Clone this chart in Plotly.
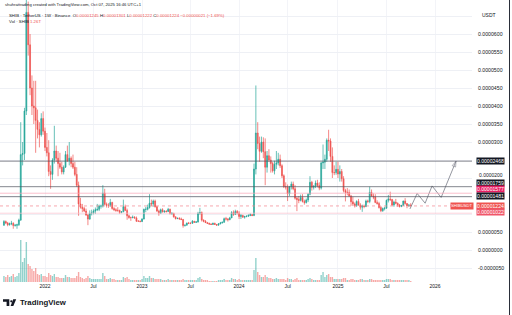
import plotly.graph_objects as go
import pandas as pd

# ---------------- data (weekly SHIB/USDT candles, prices in 1e-6 USDT) ----------------
first_week = "2021-08-02"
first_open = 6.9

close_2021 = [7.9, 7.5, 7.0, 7.3, 7.4, 6.8, 6.9, 7.0, 8.3, 26.5, 26.8, 38.6, 66.0, 57.0, 45.0, 40.0,
              39.5, 36.0, 33.5, 32.0, 36.5, 33.0]
high_2021 = [8.3, 8.2, 7.8, 7.6, 8.1, 7.7, 7.2, 7.3, 8.7, 35.5, 30.0, 39.5, 88.5, 69.0, 60.0, 48.5,
             47.0, 47.0, 39.0, 35.5, 38.0, 38.5]
low_2021 = [6.7, 7.2, 6.6, 6.8, 6.9, 5.9, 6.5, 5.9, 6.7, 8.1, 23.5, 25.0, 37.5, 54.0, 43.0, 37.5,
            35.0, 27.0, 31.0, 28.5, 31.5, 32.0]
vol_2021 = [6, 5, 7, 5, 6, 8, 5, 6, 9, 42, 20, 24, 40, 18, 16, 13, 11, 14, 8, 7, 8, 6]

close_2022 = [28.5, 27.0, 21.8, 21.0, 25.0, 27.5, 25.5, 24.0, 23.0, 21.7, 23.0, 26.5, 24.8, 25.5, 24.0, 23.0, 21.0,
              18.0, 12.8, 11.9, 11.5, 10.8, 9.7, 8.6, 10.2, 10.3, 10.8, 11.2, 11.3, 12.2, 12.2,
              15.8, 12.7, 12.4, 12.4, 13.2, 11.5, 11.2, 11.0, 11.0, 10.4, 10.6,
              12.0, 11.0, 9.5, 9.0, 9.0, 9.1, 8.9, 8.0, 8.0, 7.9]
high_2022 = [34.0, 32.5, 30.5, 23.5, 25.5, 34.5, 29.0, 27.5, 27.0, 24.5, 23.5, 27.5, 29.0, 30.0, 26.0, 26.5, 24.5,
             23.0, 19.0, 14.5, 12.8, 12.0, 11.5, 10.0, 11.0, 11.2, 11.3, 11.8, 12.8, 12.6, 12.6,
             18.0, 17.0, 13.2, 13.0, 14.2, 13.4, 11.9, 11.6, 11.9, 11.2, 10.8,
             14.0, 12.6, 11.5, 9.8, 9.3, 9.6, 9.4, 9.3, 8.3, 8.2]
low_2022 = [27.5, 26.0, 20.5, 17.0, 19.5, 24.0, 24.5, 20.5, 22.5, 21.0, 21.0, 22.8, 24.5, 23.5, 23.0, 22.5, 20.5,
            17.5, 9.5, 11.5, 10.5, 10.6, 9.5, 6.9, 8.4, 9.6, 9.9, 10.0, 10.8, 10.8, 11.5,
            11.8, 12.4, 11.8, 11.7, 12.0, 11.2, 10.8, 10.6, 10.6, 10.0, 10.2,
            10.5, 10.8, 8.4, 8.7, 8.1, 8.8, 8.7, 7.8, 7.8, 7.7]
vol_2022 = [6, 5, 9, 7, 6, 8, 5, 5, 4, 4, 4, 7, 5, 5, 4, 4, 4,
            6, 10, 5, 4, 3, 4, 6, 4, 3, 3, 3, 3, 3, 3,
            9, 6, 3, 3, 4, 3, 3, 2, 2, 2, 2,
            5, 4, 5, 3, 2, 2, 2, 2, 2, 2]

close_2023 = [8.6, 11.3, 11.3, 11.8, 13.0, 12.8, 13.6, 12.0, 10.8, 10.2, 11.2, 10.6, 10.8, 10.7, 11.3, 10.1,
              10.2, 9.2, 8.7, 8.8, 8.6, 8.5,
              6.8, 6.9, 7.5, 7.4, 7.4, 8.0, 7.7, 7.8, 10.2, 10.4, 8.3, 8.0, 7.6, 7.4, 7.2, 7.1, 7.4, 7.1,
              6.9, 7.3, 7.5, 7.7, 8.7, 8.6, 8.4, 8.9, 10.4, 9.9, 10.7, 10.3]
high_2023 = [8.8, 11.5, 12.0, 12.6, 15.5, 14.0, 14.0, 14.0, 12.2, 11.2, 11.5, 11.6, 11.0, 11.0, 11.7, 11.5,
             10.5, 10.3, 9.4, 9.0, 9.1, 9.0,
             8.6, 7.1, 7.6, 7.8, 7.7, 8.3, 8.0, 8.0, 10.6, 11.7, 10.7, 8.5, 8.3, 7.8, 7.6, 7.4, 7.6, 7.6,
             7.2, 7.4, 7.8, 7.9, 9.0, 9.2, 8.9, 9.2, 10.8, 11.0, 11.2, 11.1]
low_2023 = [7.8, 8.5, 10.5, 11.0, 11.5, 12.2, 12.0, 11.8, 10.6, 9.5, 10.0, 10.4, 10.3, 10.4, 10.6, 9.9,
            9.8, 9.0, 8.5, 8.6, 8.5, 8.3,
            6.2, 6.5, 6.8, 7.2, 7.2, 7.3, 7.5, 7.5, 7.6, 9.8, 7.9, 7.7, 7.5, 7.3, 7.0, 7.0, 7.0, 7.0,
            6.8, 6.8, 7.1, 7.4, 7.6, 8.2, 7.9, 8.3, 8.9, 9.5, 9.8, 9.9]
vol_2023 = [3, 6, 4, 4, 6, 4, 4, 3, 3, 3, 3, 2, 2, 2, 3, 2, 2, 2, 2, 2, 2, 2,
            3, 2, 2, 2, 2, 2, 2, 2, 4, 5, 3, 2, 2, 2, 1, 1, 1, 1, 1, 2, 2, 2, 3, 2, 2, 2, 4, 3, 3, 2]

close_2024 = [9.3, 9.6, 9.1, 9.3, 9.4, 9.6, 9.8, 9.6,
              22.5, 32.5, 29.6, 27.4, 30.0, 27.3, 23.0, 26.2, 25.0, 24.0, 22.0, 23.8, 24.2, 25.2, 23.4, 20.6,
              17.6, 17.5, 15.6, 17.6, 18.3, 17.0, 14.4, 14.0, 13.8, 14.6, 13.5, 13.2, 13.9, 15.5, 18.8, 17.4,
              17.7, 18.6, 17.9, 17.2,
              24.2, 24.4, 25.2, 30.5, 30.3, 26.0, 21.5, 21.5, 22.4]
high_2024 = [10.8, 10.0, 9.8, 9.5, 9.6, 9.9, 10.2, 10.0,
             24.0, 45.7, 35.5, 31.5, 31.5, 31.3, 31.0, 27.5, 28.0, 26.0, 24.5, 24.8, 27.5, 27.0, 26.5, 23.8,
             21.0, 18.8, 18.2, 17.8, 19.0, 19.0, 18.0, 14.8, 15.0, 15.4, 15.5, 14.0, 14.3, 15.8, 20.5, 19.2,
             18.0, 19.3, 19.5, 18.8,
             24.5, 29.3, 26.5, 31.0, 33.4, 31.0, 28.5, 23.5, 24.5]
low_2024 = [8.6, 8.6, 9.0, 8.7, 9.1, 9.2, 9.4, 9.4,
            9.4, 21.0, 28.0, 24.5, 27.0, 25.5, 18.0, 21.5, 24.5, 21.5, 21.5, 21.0, 22.5, 23.5, 22.8, 20.0,
            17.2, 16.8, 13.6, 15.0, 16.8, 16.6, 14.0, 10.8, 13.0, 13.5, 13.2, 12.6, 12.9, 13.3, 15.2, 16.5,
            16.8, 17.2, 17.4, 16.6,
            16.8, 22.5, 22.5, 24.5, 27.5, 24.5, 20.0, 20.8, 20.9]
vol_2024 = [3, 2, 2, 2, 2, 2, 2, 2,
            12, 24, 10, 7, 5, 5, 7, 5, 4, 4, 3, 3, 4, 3, 3, 3, 3, 2, 4, 3, 3, 2, 3, 4, 2, 2, 2, 2, 2, 3, 4, 3,
            2, 2, 2, 2,
            7, 10, 5, 7, 8, 5, 5, 3, 3]

close_2025 = [21.1, 21.8, 19.8, 16.5, 16.0, 16.0, 15.0, 13.4, 12.8, 12.3, 13.5, 12.5, 11.9, 12.2, 12.1, 13.6,
              13.5, 16.0, 15.0, 14.7, 13.2, 12.9, 11.8, 10.9, 11.5, 11.6, 13.8, 14.2, 14.0, 12.5, 13.3, 13.0,
              12.5, 12.1, 12.4, 13.6, 12.9, 12.3, 12.45, 12.24]
high_2025 = [24.5, 23.5, 22.5, 20.5, 17.0, 17.2, 16.8, 15.3, 14.8, 13.2, 13.8, 14.2, 13.0, 12.6, 12.6, 14.0,
             14.0, 17.6, 16.8, 15.7, 15.5, 13.8, 13.4, 12.2, 11.8, 12.0, 14.0, 15.3, 16.2, 14.2, 13.7, 14.2,
             13.2, 12.8, 12.5, 13.7, 14.4, 13.0, 12.8, 13.01]
low_2025 = [20.0, 19.0, 19.0, 16.0, 13.5, 15.2, 14.8, 12.3, 12.2, 11.8, 12.0, 12.3, 11.2, 10.6, 11.6, 11.9,
            13.0, 13.0, 14.8, 14.1, 13.0, 12.6, 11.5, 10.5, 10.6, 11.0, 11.5, 13.2, 13.6, 12.2, 12.0, 12.7,
            12.0, 11.8, 11.9, 12.3, 12.6, 11.6, 12.0, 12.22]
vol_2025 = [3, 3, 3, 4, 4, 2, 2, 3, 3, 2, 2, 2, 3, 3, 2, 2, 2, 3, 3, 2,
            2, 2, 2, 2, 2, 2, 3, 3, 3, 2, 2, 2, 2, 2, 2, 2, 2, 2, 2, 1]

# horizontal price levels drawn on the chart (1e-6 USDT)
level_prices = [24.68, 17.59, 15.77, 14.81, 12.24, 10.22]

# projected path (drawing)
proj_dates = ["2025-10-03", "2025-10-30", "2025-11-29", "2025-12-25", "2026-01-28", "2026-03-25"]
proj_prices = [11.4, 15.7, 13.0, 17.8, 14.6, 24.7]

# axis ticks
x_tick_dates = ["2022-01-03", "2022-07-04", "2023-01-02", "2023-07-03", "2024-01-01",
                "2024-07-01", "2025-01-06", "2025-07-07", "2026-01-05"]
x_tick_text = ["2022", "Jul", "2023", "Jul", "2024", "Jul", "2025", "Jul", "2026"]
y_tick_vals = [-5, 0, 5, 10, 15, 20, 25, 30, 35, 40, 45, 50, 55, 60, 65]
y_tick_hidden = [10, 15, 20, 25, 65]
y_tick_nudged = [20]          # shown as a separate label, nudged above the level label
vol_last_text = "1.26T"

# ---------------- assemble ----------------
closes = close_2021 + close_2022 + close_2023 + close_2024 + close_2025
highs = high_2021 + high_2022 + high_2023 + high_2024 + high_2025
lows = low_2021 + low_2022 + low_2023 + low_2024 + low_2025
vols = vol_2021 + vol_2022 + vol_2023 + vol_2024 + vol_2025
assert len(closes) == len(highs) == len(lows) == len(vols), (len(closes), len(highs), len(lows), len(vols))
opens = [first_open] + closes[:-1]
dates = pd.date_range(first_week, periods=len(closes), freq="7D")

U = 1e-6
W, H = 512, 315
ML, MR, MT, MB = 0, 40, 0, 33
PW, PH = W - ML - MR, H - MT - MB

def pxx(x):  # pixel x -> paper x
    return (x - ML) / PW

def pxy(y):  # pixel y (from top) -> paper y
    return (H - MB - y) / PH

anchor = pd.Timestamp("2022-01-03")
px_per_day = 390 / 1463.0
x_start = anchor - pd.Timedelta(days=45 / px_per_day)
x_end = anchor + pd.Timedelta(days=(PW - 45) / px_per_day)
y_top = 250 / 3.6
y_bot = (250 - PH) / 3.6

UP, DN = "#26a69a", "#ef5350"
UPV, DNV = "rgba(38,166,154,0.5)", "rgba(239,83,80,0.5)"
FONT = "Liberation Sans, Arial, sans-serif"
TXT = "#131722"

fig = go.Figure()

vol_colors = [UPV if c >= o else DNV for o, c in zip(opens, closes)]
fig.add_trace(go.Bar(x=dates, y=vols, marker=dict(color=vol_colors, line=dict(width=0)),
                     yaxis="y", showlegend=False, hoverinfo="skip"))

fig.add_trace(go.Candlestick(
    x=dates,
    open=[v * U for v in opens], high=[v * U for v in highs],
    low=[v * U for v in lows], close=[v * U for v in closes],
    yaxis="y2", whiskerwidth=0,
    increasing=dict(line=dict(color=UP, width=0.7), fillcolor=UP),
    decreasing=dict(line=dict(color=DN, width=0.7), fillcolor=DN),
    showlegend=False, hoverinfo="skip"))

fig.add_trace(go.Scatter(
    x=proj_dates, y=[p * U for p in proj_prices], yaxis="y2", mode="lines+markers",
    line=dict(color="#787b86", width=0.8),
    marker=dict(symbol="arrow-open", angleref="previous",
                size=[0] * (len(proj_dates) - 1) + [6], color="#787b86",
                line=dict(color="#787b86", width=0.8)),
    showlegend=False, hoverinfo="skip"))

# level lines + price-scale labels
level_line_colors = ["#50535e", "#50535e", "#f8a5b8", "#50535e", "#f4838d", "#f9c0cb"]
level_line_dash = ["solid", "solid", "solid", "solid", "dot", "solid"]
level_label_bg = ["#131722", "#131722", "#e91e63", "#131722", "#ef5350", "#f0566a"]
level_label_shift = [0, 3.5, 4.0, 0.6, 0, 1.2]
for price, lc, ld, bg, sh in zip(level_prices, level_line_colors, level_line_dash,
                                 level_label_bg, level_label_shift):
    fig.add_shape(type="line", xref="paper", x0=0, x1=1, yref="y2", y0=price * U, y1=price * U,
                  line=dict(color=lc, width=0.7, dash=ld))
    fig.add_annotation(xref="paper", x=pxx(476), xanchor="left", yref="y2", y=price * U,
                       yanchor="middle", yshift=sh, text=f"{price * U:.8f}", showarrow=False,
                       bgcolor=bg, font=dict(color="white", size=5.1, family=FONT),
                       width=27, height=5.6, borderpad=0, align="center")

# price-scale tick label sitting just above the level labels
for v in y_tick_nudged:
    fig.add_annotation(xref="paper", x=pxx(477), xanchor="left", yref="y2", y=v * U,
                       yanchor="middle", yshift=3.2, text=f"{v * U:.7f}", showarrow=False,
                       font=dict(size=5.0, color=TXT, family=FONT))

# symbol label next to current price
fig.add_annotation(xref="paper", x=pxx(474), xanchor="right", yref="y2", y=level_prices[4] * U,
                   yanchor="middle", text="SHIBUSDT", showarrow=False, bgcolor="#ef5350",
                   font=dict(color="white", size=4.2, family=FONT), height=5.6, borderpad=0)

# header texts
fig.add_annotation(xref="paper", yref="paper", x=pxx(3), y=pxy(5), xanchor="left", yanchor="middle",
                   text="shuhrattrading created with TradingView.com, Oct 07, 2025 16:46 UTC+1",
                   showarrow=False, font=dict(size=4.2, color=TXT, family=FONT))
o, h, l, c = opens[-1] * U, highs[-1] * U, lows[-1] * U, closes[-1] * U
chg = c - o
pct = chg / o * 100
red = "#ef5350"
legend = ("SHIB · TetherUS · 1W · Binance  "
          f"O<span style='color:{red}'>{o:.8f}</span> "
          f"H<span style='color:{red}'>{h:.8f}</span> "
          f"L<span style='color:{red}'>{l:.8f}</span> "
          f"C<span style='color:{red}'>{c:.8f} −{abs(chg):.8f} (−{abs(pct):.2f}%)</span>")
fig.add_annotation(xref="paper", yref="paper", x=pxx(7), y=pxy(15), xanchor="left", yanchor="middle",
                   text=legend, showarrow=False, font=dict(size=4.3, color=TXT, family=FONT))
fig.add_annotation(xref="paper", yref="paper", x=pxx(7), y=pxy(21), xanchor="left", yanchor="middle",
                   text=f"Vol · SHIB <span style='color:{red}'>{vol_last_text}</span>",
                   showarrow=False, font=dict(size=4.3, color=TXT, family=FONT))
fig.add_annotation(xref="paper", yref="paper", x=pxx(480), y=pxy(15), xanchor="left", yanchor="middle",
                   text="USDT", showarrow=False, font=dict(size=5, color=TXT, family=FONT))

# TradingView logo
fig.add_annotation(xref="paper", yref="paper", x=pxx(18), y=pxy(302.5), xanchor="left", yanchor="middle",
                   text="<b>TradingView</b>", showarrow=False, font=dict(size=7.8, color=TXT, family=FONT))

def path(points):
    return "M " + " L ".join(f"{pxx(x)},{pxy(y)}" for x, y in points) + " Z"

fig.add_shape(type="path", xref="paper", yref="paper", line=dict(width=0), fillcolor=TXT,
              path=path([(3, 299.3), (9.3, 299.3), (9.3, 306), (6.6, 306), (6.6, 301.8), (3, 301.8)]))
fig.add_shape(type="circle", xref="paper", yref="paper", line=dict(width=0), fillcolor=TXT,
              x0=pxx(10.2), x1=pxx(12.4), y0=pxy(302.4), y1=pxy(300.2))
fig.add_shape(type="path", xref="paper", yref="paper", line=dict(width=0), fillcolor=TXT,
              path=path([(13.2, 299.3), (16.2, 299.3), (13.3, 306), (10.6, 306)]))

# right border
fig.add_shape(type="line", xref="paper", yref="paper", x0=pxx(509.5), x1=pxx(509.5),
              y0=pxy(0), y1=pxy(H), line=dict(color="#2a2e39", width=1))

fig.update_layout(
    width=W, height=H, margin=dict(l=ML, r=MR, t=MT, b=MB),
    paper_bgcolor="white", plot_bgcolor="white", bargap=0.25,
    font=dict(family=FONT, color=TXT),
    xaxis=dict(range=[x_start, x_end], type="date", rangeslider=dict(visible=False),
               tickvals=x_tick_dates, ticktext=x_tick_text, tickfont=dict(size=5, color=TXT),
               showgrid=True, gridcolor="#f3f4f8", gridwidth=1, zeroline=False, showline=False,
               ticks=""),
    yaxis=dict(range=[0, PH], visible=False, fixedrange=True),
    yaxis2=dict(overlaying="y", side="right", range=[y_bot * U, y_top * U],
                tickvals=[v * U for v in y_tick_vals],
                ticktext=["" if v in y_tick_hidden else f"{v * U:.7f}" for v in y_tick_vals],
                tickfont=dict(size=5.2, color=TXT), ticklabelstandoff=5,
                showgrid=True, gridcolor="#eef0f5", gridwidth=1, zeroline=False, showline=False,
                ticks=""),
)

fig.write_html("out.html")
